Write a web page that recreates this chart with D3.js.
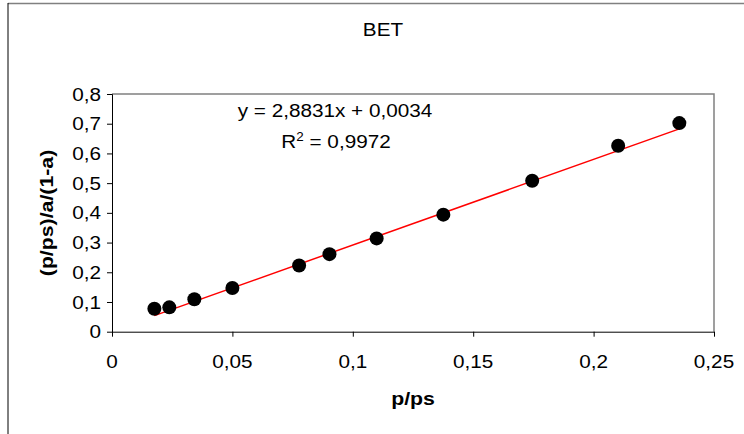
<!DOCTYPE html>
<html>
<head>
<meta charset="utf-8">
<script src="https://cdnjs.cloudflare.com/ajax/libs/d3/7.8.5/d3.min.js"></script>
<style>
  body { margin: 0; background: #fff; }
  svg { display: block; }
  text { font-family: "Liberation Sans", Arial, sans-serif; fill: #000; }
</style>
</head>
<body>
<div id="chart"></div>
<script>
// values
var pRel = [0.0176, 0.0238, 0.0342, 0.0500, 0.0777, 0.0903, 0.1099, 0.1376, 0.1745, 0.2102, 0.2356];
var betY = [0.077, 0.082, 0.109, 0.147, 0.223, 0.261, 0.314, 0.394, 0.508, 0.626, 0.702];
var xTicks = [0, 0.05, 0.1, 0.15, 0.2, 0.25];
var yTicks = [0, 0.1, 0.2, 0.3, 0.4, 0.5, 0.6, 0.7, 0.8];
var slope = 2.8831, intercept = 0.0034;
var eqText = "y = 2,8831x + 0,0034";
var r2Text = "0,9972";

var W = 744, H = 434;
var margin = { top: 94, right: 30, bottom: 102, left: 112 },
  width = 714 - margin.left,
  height = 331.7 - margin.top;

var sx = 1.12; // text in the picture is drawn a bit wider than Arial

var svg = d3.select("#chart").append("svg")
  .attr("width", W).attr("height", H);

// outer chart frame
svg.append("line").attr("x1", 8).attr("x2", W).attr("y1", 3.5).attr("y2", 3.5)
  .attr("stroke", "#808080").attr("stroke-width", 1.5);
svg.append("line").attr("x1", 8).attr("x2", 8).attr("y1", 3).attr("y2", H)
  .attr("stroke", "#000").attr("stroke-width", 1);

function label(g, x, y, str, size, weight, anchor, rot) {
  var t = g.append("text")
    .attr("transform", "translate(" + x + "," + y + ")" + (rot ? " rotate(" + rot + ")" : "") + " scale(" + sx + ",1)")
    .attr("text-anchor", anchor || "middle")
    .style("font-size", size + "px")
    .style("font-weight", weight || "normal");
  t.text(str);
  return t;
}

var main = svg.append("g")
  .attr("transform", "translate(" + margin.left + "," + margin.top + ")");

var xScale = d3.scaleLinear().domain([0, 0.25]).range([0, width]);
var yScale = d3.scaleLinear().domain([0, 0.8]).range([height, 0]);

var comma = function (d) { return String(d).replace(".", ","); };

// plot area border (top/right grey)
main.append("path")
  .attr("d", "M0,0H" + width + "V" + height)
  .attr("fill", "none").attr("stroke", "#808080").attr("stroke-width", 1.5);

var xAxis = d3.axisBottom(xScale).tickValues(xTicks).tickSize(5).tickSizeOuter(0).tickFormat("");
var yAxis = d3.axisLeft(yScale).tickValues(yTicks).tickSize(5).tickSizeOuter(0).tickFormat("");

main.append("g").attr("class", "axis x")
  .attr("transform", "translate(0," + height + ")")
  .call(xAxis);
main.append("g").attr("class", "axis y").call(yAxis);
main.selectAll(".axis path, .axis line").attr("stroke", "#000").attr("stroke-width", 1);
main.selectAll(".axis.y .tick line").attr("x1", 0.5).attr("x2", -5);

xTicks.forEach(function (d) {
  label(main, xScale(d), height + 36, comma(d), 18.5);
});
yTicks.forEach(function (d) {
  label(main, -11, yScale(d) + 6.6, comma(d), 18.5, "normal", "end");
});

// trend line over the data range
var ext = d3.extent(pRel);
main.append("line")
  .attr("x1", xScale(ext[0])).attr("y1", yScale(slope * ext[0] + intercept))
  .attr("x2", xScale(ext[1])).attr("y2", yScale(slope * ext[1] + intercept))
  .attr("stroke", "#ff0000").attr("stroke-width", 1.5);

main.selectAll("circle.pt")
  .data(pRel)
  .enter()
  .append("circle")
  .attr("class", "pt")
  .attr("cx", function (d) { return xScale(d); })
  .attr("cy", function (d, i) { return yScale(betY[i]); })
  .attr("r", 7)
  .attr("fill", "#000");

// equation and R²
label(svg, 335, 117, eqText, 18.5);
var r2 = svg.append("text")
  .attr("transform", "translate(336,148) scale(" + sx + ",1)")
  .attr("text-anchor", "middle")
  .style("font-size", "18.5px");
r2.append("tspan").text("R");
r2.append("tspan").attr("dy", -7.5).style("font-size", "12px").text("2");
r2.append("tspan").attr("dy", 7.5).text(" = " + r2Text);

// titles
label(svg, 383, 36, "BET", 18.5);
label(svg, 413, 405, "p/ps", 19, "bold");
label(svg, 53, 213, "(p/ps)/a/(1-a)", 19, "bold", "middle", -90);
</script>
</body>
</html>
